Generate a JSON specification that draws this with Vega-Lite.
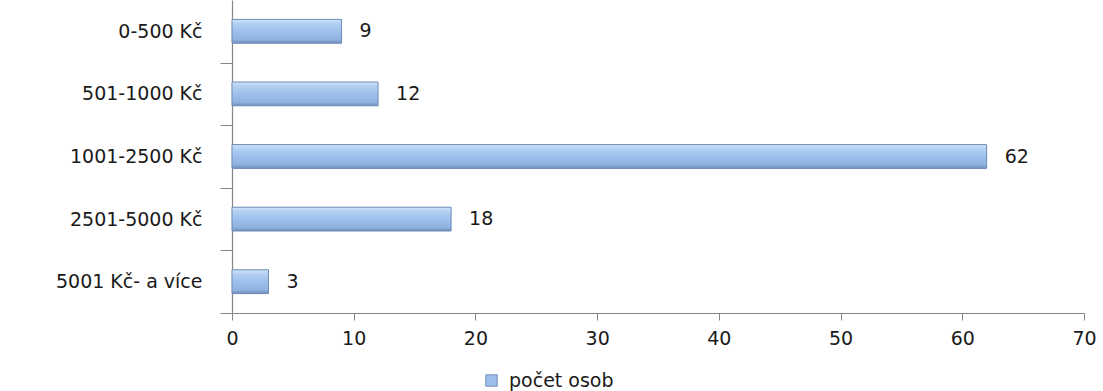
{
  "$schema": "https://vega.github.io/schema/vega-lite/v6.json",
  "width": 852,
  "height": 313,
  "autosize": {"type": "none"},
  "padding": {"left": 232, "top": 0, "right": 19, "bottom": 78},
  "background": "white",
  "config": {
    "view": {"stroke": null},
    "font": "DejaVu Sans",
    "axis": {
      "domainColor": "#868686",
      "domainWidth": 1.2,
      "tickColor": "#868686",
      "labelColor": "#1a1a1a",
      "labelFont": "DejaVu Sans",
      "labelFontSize": 19,
      "grid": false,
      "title": null
    }
  },
  "data": {
    "values": [
      {"kategorie": "0-500 Kč", "pocet": 9, "rada": "počet osob"},
      {"kategorie": "501-1000 Kč", "pocet": 12, "rada": "počet osob"},
      {"kategorie": "1001-2500 Kč", "pocet": 62, "rada": "počet osob"},
      {"kategorie": "2501-5000 Kč", "pocet": 18, "rada": "počet osob"},
      {"kategorie": "5001 Kč- a více", "pocet": 3, "rada": "počet osob"}
    ]
  },
  "encoding": {
    "y": {
      "field": "kategorie",
      "type": "nominal",
      "sort": null,
      "scale": {"paddingInner": 0.62, "paddingOuter": 0.31},
      "axis": {"tickOffset": 31.3, "labelOffset": -31.3, "tickSize": 12, "labelPadding": 18}
    },
    "x": {
      "field": "pocet",
      "type": "quantitative",
      "scale": {"domain": [0, 70], "nice": false},
      "axis": {"values": [0, 10, 20, 30, 40, 50, 60, 70], "labelFlush": false, "tickSize": 7, "labelPadding": 9}
    }
  },
  "layer": [
    {
      "mark": {"type": "bar"},
      "encoding": {
        "color": {
          "field": "rada",
          "type": "nominal",
          "scale": {"range": ["#9DBFEB"]},
          "legend": {
            "title": null,
            "orient": "none",
            "legendX": 250,
            "legendY": 371,
            "symbolType": "square",
            "symbolSize": 130,
            "symbolStrokeColor": "#6F8DB8",
            "symbolStrokeWidth": 1,
            "labelFontSize": 19,
            "labelOffset": 8,
            "labelColor": "#1a1a1a",
            "labelFont": "DejaVu Sans"
          }
        }
      }
    },
    {
      "mark": {
        "type": "bar",
        "fill": {
          "gradient": "linear",
          "x1": 0, "y1": 0, "x2": 0, "y2": 1,
          "stops": [
            {"offset": 0, "color": "#D2E4F8"},
            {"offset": 0.18, "color": "#B2CFF2"},
            {"offset": 0.5, "color": "#9EC0EC"},
            {"offset": 0.85, "color": "#8FB2E0"},
            {"offset": 1, "color": "#6F8DB8"}
          ]
        },
        "stroke": "#6F8DB8",
        "strokeWidth": 1
      }
    },
    {
      "mark": {"type": "text", "align": "left", "baseline": "middle", "dx": 18, "fontSize": 19, "color": "#1a1a1a"},
      "encoding": {"text": {"field": "pocet", "type": "quantitative"}}
    }
  ]
}
